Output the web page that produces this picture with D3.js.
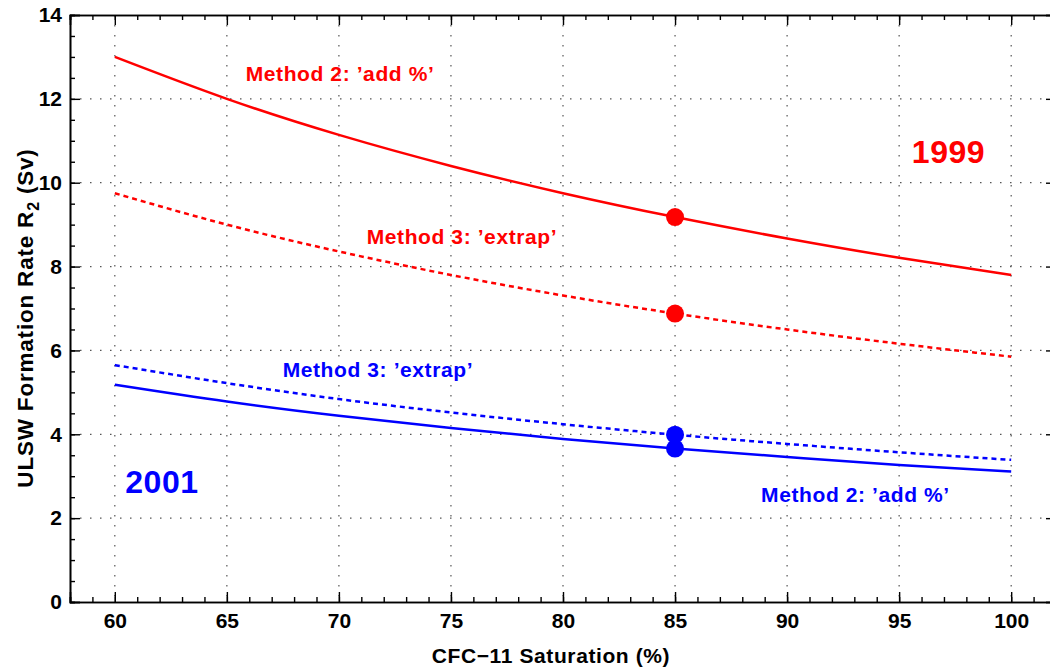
<!DOCTYPE html>
<html>
<head>
<meta charset="utf-8">
<script src="https://cdn.jsdelivr.net/npm/d3@7"></script>
<style>
  body { margin: 0; background: #fff; }
  svg text { font-family: "Liberation Sans", Arial, sans-serif; font-weight: bold; }
</style>
</head>
<body>
<div id="chart"></div>
<script>
var saturation = [60, 65, 70, 75, 80, 85, 90, 95, 100];

// 1999 curves (red)
var r1999Add = [13.0, 12.0, 11.14, 10.4, 9.75, 9.18, 8.67, 8.21, 7.8];
var r1999Extrap = [9.75, 9.0, 8.36, 7.8, 7.31, 6.88, 6.5, 6.16, 5.85];

// 2001 curves (blue)
var r2001Extrap = [5.65, 5.22, 4.84, 4.52, 4.24, 3.99, 3.77, 3.57, 3.39];
var r2001Add = [5.18, 4.78, 4.44, 4.15, 3.89, 3.66, 3.46, 3.27, 3.11];

// markers at 85 %
var markerSat = 85;
var marker1999 = [9.18, 6.88];
var marker2001 = [3.99, 3.66];

var xTicks = [60, 65, 70, 75, 80, 85, 90, 95, 100];
var yTicks = [0, 2, 4, 6, 8, 10, 12, 14];

var svgWidth = 1050;
var svgHeight = 670;
var margin = { top: 15, right: -6, bottom: 68, left: 70 };
var chartWidth = svgWidth - margin.left - margin.right;
var chartHeight = svgHeight - margin.top - margin.bottom;

var svg = d3.select("#chart")
  .append("svg")
  .attr("width", svgWidth)
  .attr("height", svgHeight);

var chartGroup = svg.append("g")
  .attr("transform", `translate(${margin.left}, ${margin.top})`);

var x = d3.scaleLinear().domain([58, 102]).range([0, chartWidth]);
var y = d3.scaleLinear().domain([0, 14]).range([chartHeight, 0]);

// dotted grid
chartGroup.append("g").selectAll("line")
  .data(xTicks)
  .enter().append("line")
  .attr("x1", d => x(d)).attr("x2", d => x(d))
  .attr("y1", 0).attr("y2", chartHeight)
  .attr("stroke", "#555").attr("stroke-width", 1.2)
  .attr("stroke-dasharray", "1.5,8.5");

chartGroup.append("g").selectAll("line")
  .data(yTicks.slice(1, -1))
  .enter().append("line")
  .attr("x1", 0).attr("x2", chartWidth)
  .attr("y1", d => y(d)).attr("y2", d => y(d))
  .attr("stroke", "#555").attr("stroke-width", 1.2)
  .attr("stroke-dasharray", "1.5,8.5");

// axes: major + minor ticks pointing inward on all four sides
function styleAxis(g) {
  g.select(".domain").attr("stroke", "#000").attr("stroke-width", 1.6);
  g.selectAll(".tick line").attr("stroke", "#000").attr("stroke-width", 1.4);
}

var xMinor = d3.range(58, 103, 1);
var yMinor = d3.range(0, 14.01, 0.5);

chartGroup.append("g")
  .attr("transform", `translate(0, ${chartHeight})`)
  .call(d3.axisBottom(x).tickValues(xMinor).tickSize(-5).tickFormat(""))
  .call(styleAxis);
var bottomAxis = chartGroup.append("g")
  .attr("transform", `translate(0, ${chartHeight})`)
  .call(d3.axisBottom(x).tickValues(xTicks).tickSize(-10).tickPadding(11))
  .call(styleAxis);
bottomAxis.selectAll("text")
  .attr("font-size", 21).attr("fill", "#000").attr("dy", "0.71em")
  .attr("font-family", "Liberation Sans, Arial, sans-serif");

chartGroup.append("g")
  .call(d3.axisTop(x).tickValues(xMinor).tickSize(-5).tickFormat(""))
  .call(styleAxis);
chartGroup.append("g")
  .call(d3.axisTop(x).tickValues(xTicks).tickSize(-10).tickFormat(""))
  .call(styleAxis);

chartGroup.append("g")
  .call(d3.axisLeft(y).tickValues(yMinor).tickSize(-5).tickFormat(""))
  .call(styleAxis);
var leftAxis = chartGroup.append("g")
  .call(d3.axisLeft(y).tickValues(yTicks).tickSize(-10).tickPadding(8))
  .call(styleAxis);
leftAxis.selectAll("text")
  .attr("font-size", 21).attr("fill", "#000")
  .attr("font-family", "Liberation Sans, Arial, sans-serif");

chartGroup.append("g")
  .attr("transform", `translate(${chartWidth}, 0)`)
  .call(d3.axisRight(y).tickValues(yMinor).tickSize(-5).tickFormat(""))
  .call(styleAxis);
chartGroup.append("g")
  .attr("transform", `translate(${chartWidth}, 0)`)
  .call(d3.axisRight(y).tickValues(yTicks).tickSize(-10).tickFormat(""))
  .call(styleAxis);

// curves
var line = d3.line()
  .x(d => x(d[0]))
  .y(d => y(d[1]))
  .curve(d3.curveNatural);

var series = [
  { values: r1999Add, color: "#ff0000", dash: null },
  { values: r1999Extrap, color: "#ff0000", dash: "5,4" },
  { values: r2001Extrap, color: "#0000ff", dash: "5,4" },
  { values: r2001Add, color: "#0000ff", dash: null }
];

series.forEach(function (s) {
  chartGroup.append("path")
    .datum(saturation.map((d, i) => [d, s.values[i]]))
    .attr("fill", "none")
    .attr("stroke", s.color)
    .attr("stroke-width", 2.5)
    .attr("stroke-dasharray", s.dash)
    .attr("d", line);
});

// markers
chartGroup.append("g").selectAll("circle")
  .data(marker1999)
  .enter().append("circle")
  .attr("cx", x(markerSat)).attr("cy", d => y(d))
  .attr("r", 9).attr("fill", "#ff0000");

chartGroup.append("g").selectAll("circle")
  .data(marker2001)
  .enter().append("circle")
  .attr("cx", x(markerSat)).attr("cy", d => y(d))
  .attr("r", 9).attr("fill", "#0000ff");

// annotations
var notes = [
  { text: "Method 2: ’add %’", sx: 70.05, sy: 12.43, color: "#ff0000", size: 21 },
  { text: "Method 3: ’extrap’", sx: 75.49, sy: 8.55, color: "#ff0000", size: 21 },
  { text: "Method 3: ’extrap’", sx: 71.74, sy: 5.37, color: "#0000ff", size: 21 },
  { text: "Method 2: ’add %’", sx: 93.05, sy: 2.39, color: "#0000ff", size: 21 },
  { text: "1999", sx: 97.2, sy: 10.47, color: "#ff0000", size: 32 },
  { text: "2001", sx: 62.1, sy: 2.6, color: "#0000ff", size: 32 }
];

chartGroup.append("g").selectAll("text")
  .data(notes)
  .enter().append("text")
  .attr("x", d => x(d.sx))
  .attr("y", d => y(d.sy))
  .attr("text-anchor", "middle")
  .attr("fill", d => d.color)
  .attr("font-size", d => d.size)
  .attr("letter-spacing", d => d.size > 30 ? 0.5 : 0.6)
  .text(d => d.text);

// axis titles
svg.append("text")
  .attr("x", 551)
  .attr("y", 663)
  .attr("text-anchor", "middle")
  .attr("font-size", 21)
  .attr("letter-spacing", 0.6)
  .attr("fill", "#000")
  .text("CFC−11 Saturation (%)");

var yTitle = svg.append("text")
  .attr("transform", "translate(33, 318) rotate(-90)")
  .attr("text-anchor", "middle")
  .attr("font-size", 22.5)
  .attr("letter-spacing", 0.8)
  .attr("fill", "#000");
yTitle.append("tspan").text("ULSW Formation Rate R");
yTitle.append("tspan").attr("font-size", 16).attr("dy", 6).text("2");
yTitle.append("tspan").attr("dy", -6).text(" (Sv)");
</script>
</body>
</html>
